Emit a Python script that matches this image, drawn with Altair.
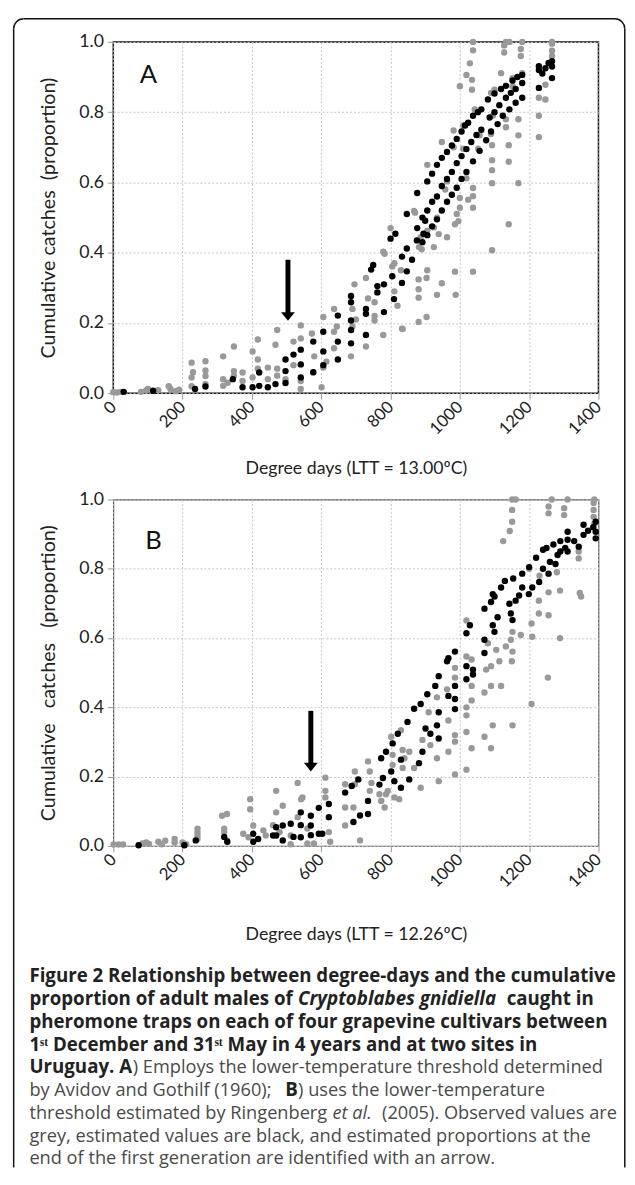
import altair as alt
import pandas as pd

# ---------------- data ----------------
X_TICKS = [0, 200, 400, 600, 800, 1000, 1200, 1400]
Y_TICKS = [0.0, 0.2, 0.4, 0.6, 0.8, 1.0]

# Panel A (LTT = 13.00 C): observed (grey) and estimated (black)
A_obs = [
    (0, .003), (10, .002), (22, .004), (80, .004), (95, .008), (100, .012), (130, .009), (160, .02), (165, .012), (180, .006), (190, .01),
    (226, .087), (226, .045), (226, .02), (230, .06), (266, .091), (266, .049), (266, .026), (266, .065), (317, .105), (317, .04), (317, .021),
    (330, .03), (348, .133), (348, .063), (348, .05), (373, .059), (373, .035), (402, .119), (402, .045), (417, .153), (417, .096), (417, .07),
    (446, .073), (446, .04), (468, .138), (473, .18), (473, .07), (473, .05), (497, .04), (520, .147), (520, .08), (541, .193), (541, .156),
    (541, .035), (541, .012), (573, .17), (580, .105), (577, .059), (601, .017), (606, .217), (606, .073), (615, .09), (637, .24), (637, .175),
    (637, .128), (645, .19), (696, .31), (690, .24), (686, .105), (690, .19), (700, .21), (729, .328), (729, .133), (735, .27), (754, .259),
    (754, .207), (754, .22), (779, .403), (779, .166), (783, .397), (800, .47), (805, .361), (811, .37), (811, .29), (820, .249), (830, .35),
    (833, .184), (835, .183), (871, .514), (868, .519), (881, .203), (881, .272), (881, .296), (881, .324), (882, .416), (887, .444), (890, .41),
    (904, .328), (904, .217), (906, .35), (906, .463), (906, .65), (925, .472), (925, .416), (934, .28), (934, .5), (939, .453), (948, .313),
    (948, .715), (958, .58), (963, .444), (963, .603), (982, .748), (982, .7), (986, .481), (986, .346), (988, .28), (991, .51), (996, .49),
    (1000, .528), (1000, .556), (1010, .696), (1010, .762), (1019, .612), (1024, .551), (1038, .584), (1038, .561), (1038, .528), (1038, .346),
    (1043, .808), (1053, .696), (1057, .734), (1090, .738), (1093, .706), (1093, .663), (1093, .635), (1093, .598), (1093, .407), (1090, .855),
    (1100, .864), (1095, .79), (1133, .757), (1133, .78), (1141, .706), (1141, .659), (1141, .481), (1169, .734), (1169, .78), (1169, .598),
    (1119, .911), (1152, .897), (1152, .874), (1180, .911), (1128, .97), (1128, .99), (1176, .98), (1176, .96), (1266, .995), (1266, .975),
    (1266, .96), (1038, 1.0), (1133, 1.0), (1143, 1.0), (1180, 1.0), (1266, 1.0), (1038, .976), (1029, .939), (1019, .906), (1000, .874),
    (1035, .892), (1035, .864), (1247, .878), (1228, .841), (1247, .836), (1228, .79), (1228, .729),
]
A_est = [
    (30, .004), (115, .007), (236, .012), (266, .019), (345, .040), (373, .017), (402, .017), (421, .059), (421, .021), (446, .017), (468, .026),
    (497, .096), (497, .063), (497, .029), (520, .110), (541, .124), (541, .082), (541, .045), (577, .147), (577, .060), (606, .175), (606, .119),
    (606, .080), (648, .221), (648, .147), (648, .096), (686, .277), (686, .259), (686, .207), (686, .180), (686, .142), (729, .240), (729, .226),
    (729, .166), (744, .352), (750, .365), (762, .287), (762, .305), (781, .310), (781, .231), (800, .440), (814, .454), (805, .333), (810, .268),
    (833, .314), (833, .389), (847, .412), (847, .347), (847, .510), (862, .38), (876, .435), (877, .47), (877, .57), (892, .43), (892, .50),
    (895, .454), (900, .491), (906, .603), (906, .52), (906, .45), (920, .625), (920, .545), (920, .475), (934, .65), (934, .56), (934, .495),
    (948, .67), (948, .59), (948, .52), (963, .687), (963, .61), (963, .545), (977, .705), (977, .63), (977, .565), (991, .724), (991, .655),
    (991, .585), (1005, .745), (1005, .675), (1005, .61), (1015, .762), (1019, .695), (1019, .63), (1024, .77), (1033, .715), (1038, .79),
    (1038, .66), (1048, .735), (1052, .80), (1057, .69), (1062, .808), (1062, .75), (1076, .72), (1081, .836), (1086, .785), (1090, .745),
    (1100, .853), (1100, .80), (1109, .766), (1114, .82), (1119, .866), (1124, .79), (1133, .875), (1133, .841), (1143, .808), (1147, .855),
    (1152, .89), (1161, .866), (1161, .827), (1166, .9), (1180, .906), (1180, .883), (1180, .841), (1228, .92), (1228, .931), (1228, .869),
    (1238, .91), (1247, .925), (1256, .94), (1266, .945), (1266, .93), (1266, .897),
]

# Panel B (LTT = 12.26 C)
B_obs = [
    (1, .004), (15, .004), (28, .004), (84, .007), (95, .01), (103, .006), (130, .012), (140, .005), (150, .015), (177, .02), (177, .01),
    (200, .01), (210, .005), (243, .05), (243, .04), (243, .03), (243, .02), (314, .087), (328, .092), (320, .05), (320, .04), (328, .016),
    (375, .035), (390, .025), (395, .135), (395, .106), (404, .059), (433, .045), (440, .03), (461, .06), (470, .159), (489, .116), (470, .097),
    (480, .04), (512, .03), (512, .005), (532, .182), (542, .135), (532, .083), (560, .007), (560, .05), (546, .14), (579, .007), (612, .197),
    (612, .159), (612, .14), (622, .04), (626, .012), (669, .178), (669, .111), (669, .059), (697, .215), (697, .178), (693, .111), (712, .016),
    (735, .244), (740, .215), (745, .182), (740, .159), (768, .149), (773, .13), (783, .111), (802, .315), (806, .263), (806, .234), (787, .149),
    (792, .159), (811, .14), (825, .135), (830, .334), (835, .277), (840, .253), (835, .225), (854, .272), (868, .225), (887, .168), (892, .306),
    (910, .386), (915, .291), (934, .429), (934, .253), (939, .187), (963, .452), (967, .362), (967, .272), (986, .514), (986, .486), (986, .32),
    (986, .301), (986, .206), (1019, .651), (1019, .547), (1019, .4), (1019, .377), (1019, .329), (1019, .22), (1034, .538), (1034, .462),
    (1034, .42), (1034, .282), (1071, .443), (1071, .315), (1076, .509), (1081, .585), (1090, .519), (1090, .462), (1090, .282), (1095, .348),
    (1105, .566), (1119, .462), (1114, .533), (1133, .576), (1147, .595), (1152, .561), (1152, .618), (1150, .533), (1152, .348), (1176, .609),
    (1207, .642), (1209, .604), (1207, .41), (1228, .671), (1228, .708), (1256, .666), (1256, .732), (1254, .486), (1289, .737), (1289, .6),
    (1346, .73), (1161, 1.0), (1151, 1.0), (1265, 1.0), (1311, 1.0), (1388, 1.0), (1151, .97), (1151, .936), (1144, .909), (1125, .88),
    (1256, .98), (1256, .96), (1301, .975), (1301, .955), (1386, .99), (1386, .97), (1386, .95), (1388, .93), (1343, .85), (1343, .83),
    (1350, .72), (1200, .80), (1230, .78), (1260, .82), (1280, .79),
]
B_est = [
    (73, .002), (205, .002), (238, .016), (320, .026), (329, .012), (404, .012), (404, .035), (418, .02), (461, .03), (470, .054), (470, .03),
    (489, .059), (489, .016), (512, .064), (520, .026), (541, .097), (541, .06), (541, .025), (570, .087), (570, .059), (570, .031), (593, .035),
    (593, .11), (603, .035), (622, .121), (622, .083), (669, .154), (688, .173), (693, .069), (707, .192), (712, .088), (735, .13), (735, .092),
    (768, .177), (773, .253), (778, .196), (787, .272), (802, .215), (806, .296), (811, .187), (821, .324), (830, .249), (830, .168), (849, .358),
    (854, .192), (868, .396), (882, .239), (887, .41), (892, .272), (901, .339), (906, .438), (915, .324), (929, .462), (934, .348), (939, .49),
    (939, .31), (939, .386), (963, .533), (967, .542), (967, .433), (986, .561), (986, .462), (986, .424), (986, .395), (1019, .614),
    (1029, .637), (1019, .519), (1019, .481), (1038, .495), (1038, .509), (1071, .685), (1071, .595), (1071, .557), (1090, .704), (1095, .727),
    (1100, .618), (1095, .637), (1109, .66), (1119, .746), (1143, .699), (1147, .671), (1152, .652), (1161, .708), (1171, .723), (1180, .746),
    (1199, .727), (1209, .746), (1100, .72), (1154, .772), (1180, .786), (1200, .805), (1220, .832), (1240, .855), (1229, .762), (1256, .786),
    (1276, .814), (1282, .84), (1304, .86), (1311, .85), (1311, .884), (1311, .907), (1343, .864), (1357, .898), (1357, .927), (1392, .936),
    (1392, .907), (1392, .888), (1385, .92), (1130, .765), (1250, .86), (1270, .87), (1290, .88), (1240, .80), (1260, .82), (1290, .85),
    (1330, .88), (1370, .91),
]

# End-of-first-generation arrows: [panel A, panel B]
arrow_x = [504, 570]
arrow_top = [0.38, 0.39]
arrow_headtop = [0.228, 0.238]
arrow_tip = [0.206, 0.215]

panel_letters = ["A", "B"]
x_titles = ["Degree days (LTT = 13.00ºC)", "Degree days (LTT = 12.26ºC)"]
y_titles = ["Cumulative catches\u00a0\u00a0(proportion)",
            "Cumulative\u00a0\u00a0\u00a0catches\u00a0\u00a0\u00a0(proportion)"]

# ---------------- layout constants ----------------
W = 493
H_A = 357
H_B = 352
GAP = 108
ORIGIN_A = (114.25, 32.25)
ORIGIN_B = (114.25, 32.25 + H_A + GAP)
FONT = "Lato"
CAP_FONT = "Open Sans"

one = pd.DataFrame({"k": [0]})


def txt(text, px, py, origin, size, weight="normal", style="normal", color="#222", align="left", font=CAP_FONT):
    return alt.Chart(one).mark_text(
        text=text, align=align, baseline="middle", font=font, fontSize=size,
        fontWeight=weight, fontStyle=style, color=color
    ).encode(x=alt.value(px - origin[0]), y=alt.value(py - origin[1]))


def panel(i, obs, est, height, frame_color, frame_w, ytitle_pad, xtitle_y, letter_pos, extra):
    xenc = alt.X("x:Q", scale=alt.Scale(domain=[0, 1400], nice=False, zero=False),
                 axis=alt.Axis(values=X_TICKS, format="d", title=x_titles[i], labelAngle=315,
                               labelAlign="right", labelBaseline="middle", labelFont=FONT,
                               labelFontSize=17, labelColor="#222", labelPadding=5, tickSize=6,
                               tickColor="#999", domain=False, grid=True, gridColor="#c4c4c4",
                               gridDash=[2, 2], gridWidth=1, titleFont=FONT, titleFontSize=18,
                               titleFontWeight="normal", titleColor="#222", titleY=xtitle_y,
                               titleBaseline="middle"))
    yenc = alt.Y("y:Q", scale=alt.Scale(domain=[0, 1], nice=False, zero=False),
                 axis=alt.Axis(values=Y_TICKS, format=".1f", title=y_titles[i], labelFont=FONT,
                               labelFontSize=18, labelColor="#222", labelPadding=4, tickSize=6,
                               tickColor="#999", domain=False, grid=True, gridColor="#c4c4c4",
                               gridDash=[2, 2], gridWidth=1, titleFont=FONT, titleFontSize=20,
                               titleFontWeight="normal", titleColor="#222", titlePadding=ytitle_pad))
    dobs = pd.DataFrame(obs, columns=["x", "y"])
    dest = pd.DataFrame(est, columns=["x", "y"])
    darr = pd.DataFrame({"x": [arrow_x[i]], "top": [arrow_top[i]], "headtop": [arrow_headtop[i]],
                         "tip": [arrow_tip[i]]})
    grey = alt.Chart(dobs).mark_circle(size=42, color="#999999", opacity=1).encode(x=xenc, y=yenc)
    black = alt.Chart(dest).mark_circle(size=42, color="#000000", opacity=1).encode(x="x:Q", y="y:Q")
    shaft = alt.Chart(darr).mark_rule(strokeWidth=5, color="#000").encode(x="x:Q", y="top:Q", y2="headtop:Q")
    head = alt.Chart(darr).mark_point(shape="M-1,-1.25L1,-1.25L0,0Z", filled=True, size=196, color="#000",
                                      opacity=1, strokeWidth=0).encode(x="x:Q", y="tip:Q")
    letter = alt.Chart(one).mark_text(text=panel_letters[i], font=FONT, fontSize=26, align="center",
                                      baseline="middle", color="#111").encode(
        x=alt.value(letter_pos[0]), y=alt.value(letter_pos[1]))
    return alt.layer(grey, black, shaft, head, letter, *extra).properties(
        width=W, height=height, view=alt.ViewBackground(stroke=frame_color, strokeWidth=frame_w))


# ---------------- outer rounded border (in panel A coordinates) ----------------
oa = ORIGIN_A
L, T, R, Bt, RAD = 13, 8.75, 634, 1176, 10
border = [
    alt.Chart(one).mark_rule(color="#111", strokeWidth=1.5).encode(
        x=alt.value(L - oa[0]), y=alt.value(T + RAD - oa[1]), y2=alt.value(Bt - oa[1])),
    alt.Chart(one).mark_rule(color="#111", strokeWidth=1.5).encode(
        x=alt.value(R - oa[0]), y=alt.value(T + RAD - oa[1]), y2=alt.value(Bt - oa[1])),
    alt.Chart(one).mark_rule(color="#111", strokeWidth=1.5).encode(
        y=alt.value(T - oa[1]), x=alt.value(L + RAD - oa[0]), x2=alt.value(R - RAD - oa[0])),
    alt.Chart(one).mark_arc(radius=RAD + 0.75, radius2=RAD - 0.75, theta=4.71239, theta2=6.28319,
                            color="#111").encode(x=alt.value(L + RAD - oa[0]), y=alt.value(T + RAD - oa[1])),
    alt.Chart(one).mark_arc(radius=RAD + 0.75, radius2=RAD - 0.75, theta=0, theta2=1.5708,
                            color="#111").encode(x=alt.value(R - RAD - oa[0]), y=alt.value(T + RAD - oa[1])),
]

# ---------------- caption (in panel B coordinates) ----------------
ob = ORIGIN_B
CB = 19      # bold caption size
CR = 18.5    # regular caption size
BOLD = "bold"
REG = "#4a4a4a"
LY = [982 + 23.1 * k for k in range(9)]
caption = [
    txt("Figure 2 Relationship between degree-days and the cumulative", 29, LY[0], ob, CB, BOLD),
    txt("proportion of adult males of", 29, LY[1], ob, CB, BOLD),
    txt("Cryptoblabes gnidiella", 302, LY[1], ob, CB, BOLD, "italic"),
    txt("caught in", 514, LY[1], ob, CB, BOLD),
    txt("pheromone traps on each of four grapevine cultivars between", 29, LY[2], ob, CB, BOLD),
    txt("1\u02e2\u1d57 December and 31\u02e2\u1d57 May in 4 years and at two sites in", 29, LY[3], ob, CB, BOLD),
    txt("Uruguay. A", 29, LY[4], ob, CB, BOLD),
    txt(") Employs the lower-temperature threshold determined", 134, LY[4], ob, CR, "normal", color=REG),
    txt("by Avidov and Gothilf (1960);", 29, LY[5], ob, CR, "normal", color=REG),
    txt("B", 289, LY[5], ob, CB, BOLD),
    txt(") uses the lower-temperature", 302, LY[5], ob, CR, "normal", color=REG),
    txt("threshold estimated by Ringenberg", 29, LY[6], ob, CR, "normal", color=REG),
    txt("et al.", 337, LY[6], ob, CR, "normal", "italic", color=REG),
    txt("(2005). Observed values are", 626, LY[6], ob, CR, "normal", color=REG, align="right"),
    txt("grey, estimated values are black, and estimated proportions at the", 29, LY[7], ob, CR, "normal", color=REG),
    txt("end of the first generation are identified with an arrow.", 29, LY[8], ob, CR, "normal", color=REG),
]

panelA = panel(0, A_obs, A_est, H_A, "#111", 1.5, 21, 77, (35.75, 34), border)
panelB = panel(1, B_obs, B_est, H_B, "#555", 1.2, 21, 90, (40.75, 42), caption)

chart = alt.vconcat(panelA, panelB, spacing=GAP, bounds="flush").properties(
    padding={"left": 4, "top": 0, "right": 0, "bottom": 0},
    background="white",
).configure_view(stroke=None)

chart.save("out.html", embed_options={"renderer": "svg", "actions": False})
